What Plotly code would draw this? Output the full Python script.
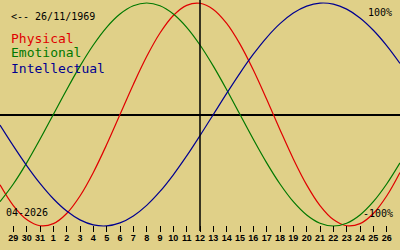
import plotly.graph_objects as go

# Day labels (29 Mar 2026 .. 26 Apr 2026); index -1 and 29 are the edge days (28 Mar, 27 Apr)
day_labels = ["29", "30", "31"] + [str(d) for d in range(1, 27)]
day_index = list(range(-1, 30))  # 31 points, -1 .. 29

physical = [-0.6311, -0.8170, -0.9423, -0.9977, -0.9791, -0.8879, -0.7308, -0.5196,
            -0.2698, 0.0, 0.2698, 0.5196, 0.7308, 0.8879, 0.9791, 0.9977,
            0.9423, 0.8170, 0.6311, 0.3984, 0.1362, -0.1362, -0.3984, -0.6311,
            -0.8170, -0.9423, -0.9977, -0.9791, -0.8879, -0.7308, -0.5196]
emotional = [-0.7818, -0.6235, -0.4339, -0.2225, 0.0, 0.2225, 0.4339, 0.6235,
             0.7818, 0.9010, 0.9749, 1.0, 0.9749, 0.9010, 0.7818, 0.6235,
             0.4339, 0.2225, 0.0, -0.2225, -0.4339, -0.6235, -0.7818, -0.9010,
             -0.9749, -1.0, -0.9749, -0.9010, -0.7818, -0.6235, -0.4339]
intellectual = [-0.0951, -0.2817, -0.4582, -0.6182, -0.7557, -0.8660, -0.9450, -0.9898,
                -0.9989, -0.9718, -0.9096, -0.8146, -0.6901, -0.5406, -0.3717, -0.1893,
                0.0, 0.1893, 0.3717, 0.5406, 0.6901, 0.8146, 0.9096, 0.9718,
                0.9989, 0.9898, 0.9450, 0.8660, 0.7557, 0.6182, 0.4582]

series_names = ["Physical", "Emotional", "Intellectual"]
series_colors = ["#e00000", "#007800", "#000090"]
birth_label = "<-- 26/11/1969"
month_label = "04-2026"
today_index = 14  # day 12

W, H = 400, 250
BG = "#e0d088"

fig = go.Figure()
for name, vals, col in zip(series_names, [physical, emotional, intellectual], series_colors):
    fig.add_trace(go.Scatter(x=day_index, y=vals, mode="lines", name=name,
                             line=dict(color=col, width=1.2, shape="spline", smoothing=1.0),
                             hoverinfo="skip"))

def py(pix):
    return 1 - pix / H

fig.add_shape(type="line", xref="x", yref="paper", x0=today_index, x1=today_index,
              y0=py(231), y1=1, line=dict(color="black", width=1.5))

mono = "DejaVu Sans Mono"
ann = [
    dict(text=birth_label, x=9 / W, y=py(16), size=10, color="black", xanchor="left"),
    dict(text=series_names[0], x=9 / W, y=py(38), size=13, color=series_colors[0], xanchor="left"),
    dict(text=series_names[1], x=9 / W, y=py(53), size=13, color=series_colors[1], xanchor="left"),
    dict(text=series_names[2], x=9 / W, y=py(68), size=13, color=series_colors[2], xanchor="left"),
    dict(text="100%", x=394 / W, y=py(12), size=10, color="black", xanchor="right"),
    dict(text="-100%", x=395 / W, y=py(213), size=10, color="black", xanchor="right"),
    dict(text=month_label, x=4 / W, y=py(212), size=10, color="black", xanchor="left"),
]
for a in ann:
    fig.add_annotation(text=a["text"], x=a["x"], y=a["y"], xref="paper", yref="paper",
                       xanchor=a["xanchor"], yanchor="middle", showarrow=False,
                       font=dict(family=mono, size=a["size"], color=a["color"]))

fig.update_layout(
    width=W, height=H, margin=dict(l=0, r=0, t=0, b=0),
    paper_bgcolor=BG, plot_bgcolor=BG, showlegend=False,
    xaxis=dict(range=[-1, 29], showgrid=False, zeroline=False, showline=False,
               anchor="free", position=py(225),
               tickmode="array", tickvals=list(range(0, 29)), ticktext=day_labels,
               ticks="outside", ticklen=6, tickwidth=1, tickcolor="black",
               ticklabelstandoff=-2,
               tickfont=dict(family="Liberation Sans", size=9, color="black", weight="bold"),
               fixedrange=True),
    yaxis=dict(range=[-(250 - 114.5) / 111.5, 114.5 / 111.5], showgrid=False,
               zeroline=True, zerolinecolor="black", zerolinewidth=1.5,
               showticklabels=False, showline=False, fixedrange=True),
)

fig.write_html("out.html")
